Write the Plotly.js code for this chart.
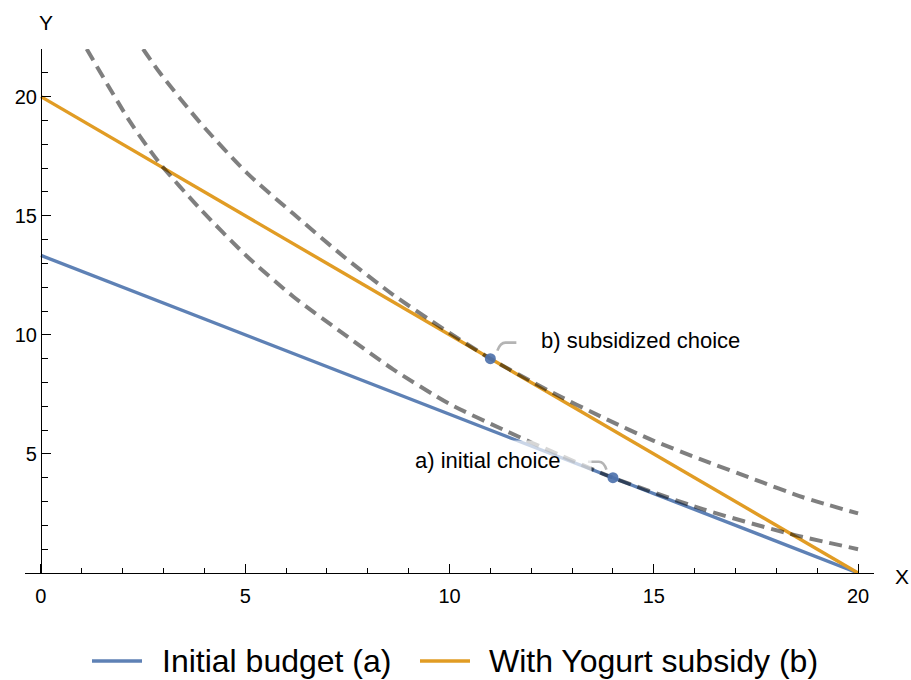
<!DOCTYPE html>
<html>
<head>
<meta charset="utf-8">
<script src="https://cdn.plot.ly/plotly-3.0.1.min.js"></script>
<style>
  html, body { margin: 0; padding: 0; background: #ffffff; }
  #chart { width: 911px; height: 680px; }
</style>
</head>
<body>
<div id="chart"></div>
<script>
// ---------- data ----------
const budgetX = [0, 20];
const initialBudgetY = [13.333, 0];
const subsidyBudgetY = [20, 0];

// lower indifference curve (through the initial choice)
const icLowX = [1.12, 2.18, 2.91, 3.89, 5.04, 6.18, 7.40, 8.62, 10.0, 11.4, 12.7, 14.0, 16.2, 18.25, 20.0];
const icLowY = [22.0, 18.95, 17.2, 15.3, 13.3, 11.6, 10.05, 8.55, 7.1, 5.95, 4.95, 4.0, 2.68, 1.68, 1.0];

// upper indifference curve (through the subsidized choice)
const icHighX = [2.50, 2.91, 3.89, 5.04, 6.18, 7.40, 8.62, 9.85, 11.0, 12.4, 13.85, 15.0, 16.2, 17.45, 18.65, 20.0];
const icHighY = [22.0, 21.0, 18.92, 16.8, 15.08, 13.3, 11.68, 10.25, 9.0, 7.68, 6.45, 5.55, 4.74, 3.94, 3.18, 2.5];

const choiceX = [14, 11];
const choiceY = [4, 9];
const choiceLabels = ['a) initial choice', 'b) subsidized choice'];

const seriesNames = ['Initial budget (a)', 'With Yogurt subsidy (b)'];
const xTickVals = [0, 5, 10, 15, 20];
const yTickVals = [5, 10, 15, 20];
const axisNames = ['X', 'Y'];

// ---------- styling / layout ----------
const W = 911, H = 680;
const M = { l: 25, r: 37, t: 49, b: 107 };
const PW = W - M.l - M.r, PH = H - M.t - M.b;
const px2x = px => (px - M.l) / PW;
const py2y = py => (H - M.b - py) / PH;

const BLUE = '#5E81B5';
const ORANGE = '#E19C24';
const FONT = 'Arial, "Liberation Sans", Helvetica, sans-serif';
const xRange = [-0.39, 20.39];
const yRange = [0, 22];

const dashStyle = { color: 'rgba(0,0,0,0.5)', width: 4, dash: '13px,7px', shape: 'spline', smoothing: 0.7 };

const traces = [
  { x: budgetX, y: initialBudgetY, mode: 'lines', name: seriesNames[0],
    line: { color: BLUE, width: 3.4 }, showlegend: false, hoverinfo: 'skip' },
  { x: budgetX, y: subsidyBudgetY, mode: 'lines', name: seriesNames[1],
    line: { color: ORANGE, width: 3.4 }, showlegend: false, hoverinfo: 'skip' },
  { x: icLowX, y: icLowY, mode: 'lines', line: dashStyle, showlegend: false, hoverinfo: 'skip' },
  { x: icHighX, y: icHighY, mode: 'lines', line: dashStyle, showlegend: false, hoverinfo: 'skip' },
  { x: choiceX, y: choiceY, mode: 'markers', showlegend: false, hoverinfo: 'skip',
    marker: { color: 'rgba(78,114,172,0.92)', size: 11 } }
];

const annotations = [
  // choice labels, placed relative to their points
  { x: choiceX[0], y: choiceY[0], xref: 'x', yref: 'y', text: choiceLabels[0], showarrow: false,
    xshift: -113, yshift: 18, xanchor: 'center', yanchor: 'middle', align: 'left',
    width: 170, height: 26, borderpad: 6, bgcolor: 'rgba(255,255,255,0.68)',
    font: { family: FONT, size: 22, color: '#000' } },
  { x: choiceX[1], y: choiceY[1], xref: 'x', yref: 'y', text: choiceLabels[1], showarrow: false,
    xshift: 150, yshift: 18.6, xanchor: 'center', yanchor: 'middle',
    borderpad: 4, bgcolor: 'rgba(255,255,255,0.68)',
    font: { family: FONT, size: 22, color: '#000' } },
  // axis names
  { x: px2x(46), y: py2y(22), xref: 'paper', yref: 'paper', text: axisNames[1], showarrow: false,
    xanchor: 'center', yanchor: 'middle', font: { family: FONT, size: 21, color: '#000' } },
  { x: px2x(902), y: py2y(576), xref: 'paper', yref: 'paper', text: axisNames[0], showarrow: false,
    xanchor: 'center', yanchor: 'middle', font: { family: FONT, size: 21, color: '#000' } },
  // legend texts
  { x: px2x(160), y: py2y(661), xref: 'paper', yref: 'paper', text: seriesNames[0], showarrow: false,
    xanchor: 'left', yanchor: 'middle', font: { family: FONT, size: 32, color: '#000' } },
  { x: px2x(487), y: py2y(661), xref: 'paper', yref: 'paper', text: seriesNames[1], showarrow: false,
    xanchor: 'left', yanchor: 'middle', font: { family: FONT, size: 32, color: '#000' } }
];

const shapes = [
  // callout leader hooks
  { type: 'path', xref: 'x', yref: 'y', xsizemode: 'pixel', ysizemode: 'pixel',
    xanchor: choiceX[0], yanchor: choiceY[0], path: 'M -25,16 L -14,16 Q -9,16 -6.5,8',
    line: { color: '#b4b4b4', width: 2.6 }, layer: 'above' },
  { type: 'path', xref: 'x', yref: 'y', xsizemode: 'pixel', ysizemode: 'pixel',
    xanchor: choiceX[1], yanchor: choiceY[1], path: 'M 26,16 L 15,16 Q 10,16 7,8',
    line: { color: '#b4b4b4', width: 2.6 }, layer: 'above' },
  // legend swatches
  { type: 'line', xref: 'paper', yref: 'paper', x0: px2x(92), x1: px2x(142), y0: py2y(661), y1: py2y(661),
    line: { color: BLUE, width: 3.6 } },
  { type: 'line', xref: 'paper', yref: 'paper', x0: px2x(420), x1: px2x(470), y0: py2y(661), y1: py2y(661),
    line: { color: ORANGE, width: 3.6 } }
];

const layout = {
  width: W, height: H,
  margin: M,
  paper_bgcolor: '#ffffff', plot_bgcolor: '#ffffff',
  showlegend: false,
  font: { family: FONT, color: '#000' },
  xaxis: {
    range: xRange, showgrid: false, zeroline: false,
    showline: true, linecolor: '#000', linewidth: 1,
    ticks: 'inside', ticklen: 9, tickwidth: 1, tickcolor: '#000',
    tickmode: 'array', tickvals: xTickVals, ticktext: xTickVals.map(String),
    ticklabelstandoff: 5,
    minor: { ticks: 'inside', ticklen: 5, tickwidth: 1, tickcolor: '#000', tickmode: 'linear', tick0: 0, dtick: 1, showgrid: false },
    tickfont: { family: FONT, size: 20, color: '#000' },
    fixedrange: true
  },
  yaxis: {
    range: yRange, showgrid: false, zeroline: false,
    anchor: 'free', position: (0 - xRange[0]) / (xRange[1] - xRange[0]),
    showline: true, linecolor: '#000', linewidth: 1,
    ticks: 'inside', ticklen: 9, tickwidth: 1, tickcolor: '#000',
    tickmode: 'array', tickvals: yTickVals, ticktext: yTickVals.map(String),
    minor: { ticks: 'inside', ticklen: 6, tickwidth: 1, tickcolor: '#000', tickmode: 'linear', tick0: 0, dtick: 1, showgrid: false },
    tickfont: { family: FONT, size: 20, color: '#000' },
    fixedrange: true
  },
  annotations: annotations,
  shapes: shapes
};

Plotly.newPlot('chart', traces, layout, { staticPlot: true, displayModeBar: false });
</script>
</body>
</html>
